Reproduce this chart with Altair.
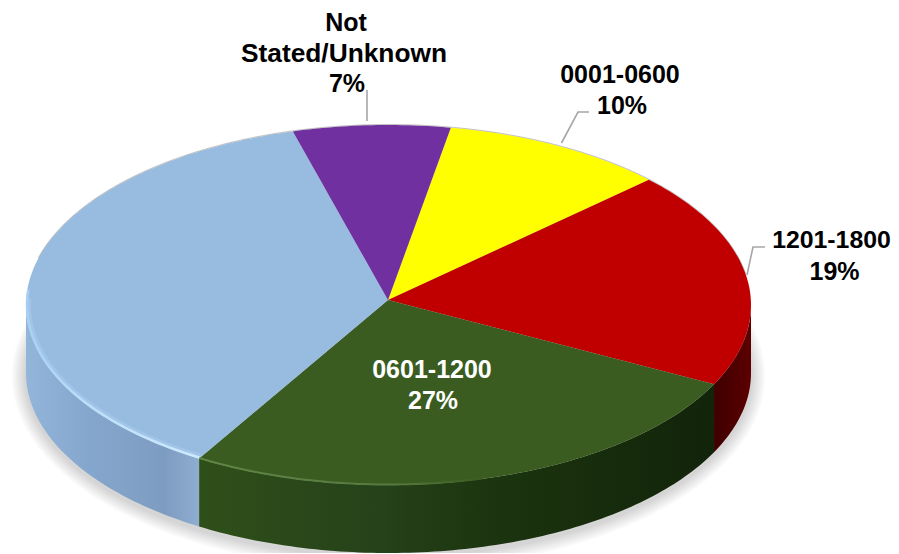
import numpy as np
import pandas as pd
import altair as alt

# --- data ---
slices = ["0001-0600", "1201-1800", "0601-1200", "1801-2400", "Not Stated/Unknown"]
shares = [10.0, 19.5, 26.5, 37.0, 7.0]
top_colors = ["#ffff00", "#c00000", "#3b5c20", "#97bce0", "#70309f"]
label_texts = ["Not", "Stated/Unknown", "7%", "0001-0600", "10%", "1201-1800", "19%", "0601-1200", "27%"]
label_xs = [346, 344, 347, 620, 622, 831.5, 834.5, 432, 433]
label_ys = [23, 53.5, 84, 75, 105.5, 241, 272, 370, 401]
label_colors = ["black"] * 7 + ["white"] * 2
label_sizes = [25, 26.3, 25, 25, 25, 24.8, 25, 25, 25]

START = 9.9
CX, CY, RX, RY, DEPTH = 388.5, 305.0, 362.5, 180.0, 68.0
APEX = (388.0, 300.0)

xs = alt.X("x:Q", scale=alt.Scale(domain=[8, 891]), axis=None)
ys = alt.Y("y:Q", scale=alt.Scale(domain=[553, 8]), axis=None)


def rim(t0, t1, dy=0.0, rx=RX, ry=RY):
    t = np.radians(np.linspace(t0, t1, max(int(abs(t1 - t0)) + 2, 3)))
    return CX + rx * np.sin(t), CY + dy - ry * np.cos(t)


def shape(px, py):
    return pd.DataFrame({"x": px, "y": py, "i": np.arange(len(px))})


def poly(px, py, fill, opacity=1.0):
    return alt.Chart(shape(px, py)).mark_line(
        fill=fill, strokeWidth=0, strokeOpacity=0, fillOpacity=opacity, interpolate="linear"
    ).encode(x=xs, y=ys, order=alt.Order("i:Q"))


def stroke(px, py, color, width, opacity=1.0):
    return alt.Chart(shape(px, py)).mark_line(
        stroke=color, strokeWidth=width, opacity=opacity, interpolate="linear", strokeCap="butt"
    ).encode(x=xs, y=ys, order=alt.Order("i:Q"))


def grad(stops):
    return alt.LinearGradient(
        gradient="linear", x1=0, y1=0, x2=1, y2=0,
        stops=[alt.GradientStop(offset=o, color=c) for o, c in stops],
    )


layers = []

# soft shadow beneath the disc
for d in [14, 12, 10, 8, 6, 4, 2]:
    px, py = rim(0, 360, DEPTH + 3, RX + d, RY + d)
    layers.append(poly(px, py, "#000000", 0.022))

edges = START + np.cumsum([0] + shares) * 3.6

# side wall
wall_fill = {
    1: grad([(0, "#3e0000"), (0.5, "#4d0000"), (1, "#5c0000")]),
    2: grad([(0, "#2f4f19"), (0.35, "#25421a"), (0.6, "#1b330e"), (1, "#12240a")]),
    3: grad([(0, "#93b5da"), (0.35, "#86a7cd"), (0.8, "#7d9cc1"), (1, "#8fadd0")]),
}
wall_span = {1: (edges[2], 90), 2: (edges[3], edges[2]), 3: (270, edges[3])}
for k in [1, 2, 3]:
    a, b = wall_span[k]
    tx, ty = rim(a, b)
    bx, by = rim(b, a, DEPTH)
    layers.append(poly(np.r_[tx, bx], np.r_[ty, by], wall_fill[k]))

# top faces
for k in range(len(slices)):
    ax, ay = rim(edges[k], edges[k + 1])
    layers.append(poly(np.r_[APEX[0], ax], np.r_[APEX[1], ay], top_colors[k]))

# rim highlights
hx, hy = rim(272, edges[3], 0, RX - 2.5, RY - 2.5)
layers.append(stroke(hx, hy, "#b4d8f6", 5, 0.35))
hx, hy = rim(275, edges[3], 0, RX - 1, RY - 1)
layers.append(stroke(hx, hy, grad([(0, "#a9d0f2"), (0.35, "#bcdef9"), (1, "#cdeafd")]), 2.5))
hx, hy = rim(edges[3], 165, 0, RX - 0.5, RY - 0.5)
layers.append(stroke(hx, hy, grad([(0, "#5f8547"), (0.7, "#56793d"), (1, "#3b5c20")]), 2))
hx, hy = rim(285, 440, -0.5, RX, RY)
layers.append(stroke(hx, hy, "#666666", 1, 0.4))

# leader lines
for lx, ly in [([367, 367], [90, 121]), ([561.5, 578, 589], [143, 112, 112]), ([747, 753, 765], [275, 247, 247])]:
    layers.append(stroke(np.array(lx), np.array(ly), "#a6a6a6", 1.6))

# labels
labels = pd.DataFrame({"x": label_xs, "y": label_ys, "t": label_texts, "c": label_colors, "s": label_sizes})
layers.append(
    alt.Chart(labels).mark_text(
        font="Liberation Sans", fontWeight="bold", align="center", baseline="middle"
    ).encode(x=xs, y=ys, text="t:N", color=alt.Color("c:N", scale=None), size=alt.Size("s:Q", scale=None))
)

chart = alt.layer(*layers).properties(
    width=883, height=545, padding=0, autosize=alt.AutoSizeParams(type="none"), background="white"
).configure_view(stroke=None)

chart.save("out.html", embed_options={"renderer": "svg", "actions": False})
